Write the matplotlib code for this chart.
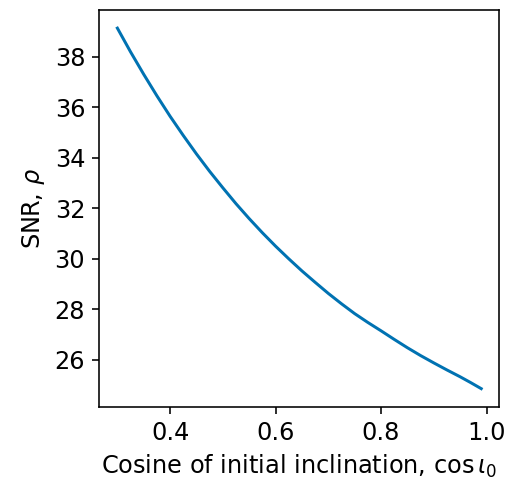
import numpy as np
import matplotlib
matplotlib.use("Agg")
import matplotlib.pyplot as plt

# values
cos_inc = [0.300, 0.325, 0.350, 0.375, 0.400, 0.425, 0.450, 0.475, 0.500, 0.525,
           0.550, 0.575, 0.600, 0.625, 0.650, 0.675, 0.700, 0.725, 0.750, 0.775,
           0.800, 0.825, 0.850, 0.875, 0.900, 0.925, 0.950, 0.970, 0.990]
snr = [39.13, 38.19, 37.30, 36.45, 35.64, 34.88, 34.15, 33.46, 32.81, 32.18,
       31.59, 31.03, 30.50, 30.00, 29.52, 29.07, 28.63, 28.22, 27.83, 27.48,
       27.15, 26.81, 26.48, 26.17, 25.88, 25.60, 25.33, 25.10, 24.86]

xticks = [0.4, 0.6, 0.8, 1.0]
yticks = [26, 28, 30, 32, 34, 36, 38]

plt.rcParams['font.size'] = 12

fig = plt.figure(figsize=(506 / 144, 481 / 144), dpi=144)
ax = fig.add_axes([0.196, 0.1545, 0.791, 0.8245])

ax.plot(cos_inc, snr, color='#0072b2', lw=1.5)

ax.set_xticks(xticks)
ax.set_yticks(yticks)
ax.set_xlabel(r'Cosine of initial inclination, $\cos\iota_0$')
ax.set_ylabel(r'SNR, $\rho$')

fig.savefig('out.png', dpi=144)
